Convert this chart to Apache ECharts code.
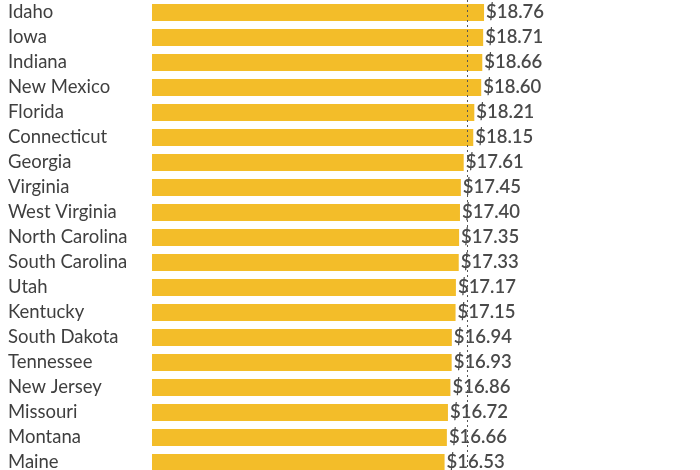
<!DOCTYPE html>
<html><head><meta charset="utf-8">
<script src="https://cdn.jsdelivr.net/npm/echarts@6/dist/echarts.min.js"></script>
<style>html,body{margin:0;padding:0;background:#fff;overflow:hidden}#c{width:700px;height:480px}</style>
</head><body><div id="c"></div>
<script>
var states = ["Idaho","Iowa","Indiana","New Mexico","Florida","Connecticut","Georgia","Virginia","West Virginia","North Carolina","South Carolina","Utah","Kentucky","South Dakota","Tennessee","New Jersey","Missouri","Montana","Maine"];
var wages = [18.76,18.71,18.66,18.60,18.21,18.15,17.61,17.45,17.40,17.35,17.33,17.17,17.15,16.94,16.93,16.86,16.72,16.66,16.53];
var referenceLine = 17.8;

var chart = echarts.init(document.getElementById('c'));
chart.setOption({
  animation: false,
  grid: {left: 152, right: 17, top: 0, height: 475, containLabel: false},
  xAxis: {type: 'value', min: 0, max: 30, show: false},
  yAxis: {
    type: 'category', data: states, inverse: true,
    axisLine: {show: false}, axisTick: {show: false},
    axisLabel: {align: 'left', margin: 144, fontFamily: 'Lato', fontSize: 18.5, color: '#3f3f3f'}
  },
  series: [{
    type: 'bar', data: wages, barWidth: 17,
    itemStyle: {color: '#F3BD29'},
    label: {show: true, position: 'right', distance: 2, fontFamily: 'Lato', fontSize: 18.5, fontWeight: 600, color: '#4a4a4a',
      formatter: function(p){ return '$' + p.value.toFixed(2); }},
    markLine: {
      silent: true, symbol: 'none', label: {show: false},
      lineStyle: {type: [2, 3], color: '#555', width: 1},
      data: [{xAxis: referenceLine}]
    }
  }]
});
</script></body></html>
